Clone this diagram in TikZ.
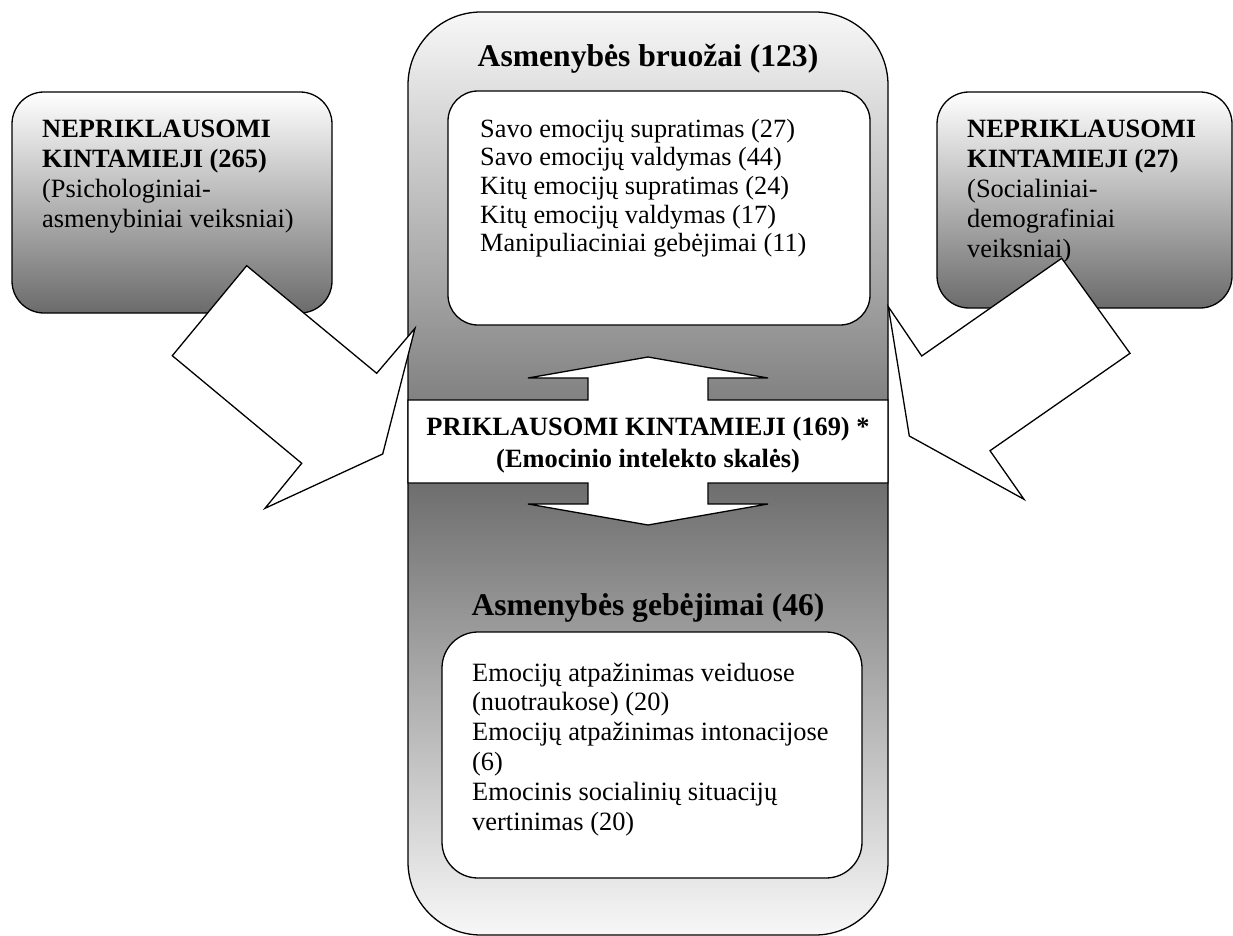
\documentclass[tikz,border=0pt]{standalone}
\usepackage{fontspec}
\setmainfont{Liberation Serif}
\definecolor{paleg}{gray}{0.97}
\definecolor{darkg}{gray}{0.42}
\pgfdeclareverticalshading{mirrorfade}{100bp}{color(0bp)=(paleg); color(25bp)=(paleg); color(50bp)=(darkg); color(75bp)=(paleg); color(100bp)=(paleg)}
\tikzstyle{frame} = [draw, line width=1.3pt, rounded corners=73pt, shade, shading=mirrorfade, inner sep=0pt]
\tikzstyle{sidebox} = [draw, line width=1.3pt, rounded corners=32pt, top color=white, bottom color=darkg, inner sep=0pt]
\tikzstyle{listbox} = [draw, line width=1.3pt, fill=white, inner sep=0pt]
\tikzstyle{blockarrow} = [draw, line width=1.3pt, fill=white, line join=miter]
\tikzstyle{body} = [font=\fontsize{26.4}{30}\selectfont, align=left, inner sep=0pt, anchor=base west]
\tikzstyle{head} = [font=\bfseries\fontsize{31.6}{36}\selectfont, inner sep=0pt, anchor=base]

\begin{document}
\begin{tikzpicture}[x=1pt, y=-1pt]
			\useasboundingbox (0,0) rectangle (1233,936);
			\node [frame, minimum width=480pt, minimum height=923pt] (traitframe) at (648,473.5) {};
			\node [listbox, rounded corners=30pt, minimum width=422pt, minimum height=234pt] (traitbox) at (659,208) {};
			\node [listbox, rounded corners=36pt, minimum width=420pt, minimum height=246pt] (abilitybox) at (652,755) {};
			\path [blockarrow] (408,400) -- (588,400) -- (588,378) -- (528,378) -- (648,357) -- (768,378) -- (708,378) -- (708,400)
				-- (888,400) -- (888,483) -- (708,483) -- (708,504) -- (768,504) -- (648,525) -- (528,504) -- (588,504) -- (588,483) -- (408,483) -- cycle;
			\node [sidebox, minimum width=320pt, minimum height=221pt] (psychbox) at (172,202.5) {};
			\node [sidebox, minimum width=295pt, minimum height=216pt] (socbox) at (1084.5,200) {};
			\node [body] (psychtext) at (42,227) {{\bfseries NEPRIKLAUSOMI}\\{\bfseries KINTAMIEJI (265)}\\(Psichologiniai-\\asmenybiniai veiksniai)};
			\node [body] (soctext) at (967,257) {{\bfseries NEPRIKLAUSOMI}\\{\bfseries KINTAMIEJI (27)}\\(Socialiniai-\\demografiniai\\veiksniai)};
			\path [blockarrow] (246.7,265.7) -- (172.3,355.7) -- (301.7,463.3) -- (265,508.3) -- (382.7,454) -- (415,328.3) -- (376.7,373.3) -- cycle;
			\path [blockarrow] (888.3,306.7) -- (921.7,356) -- (1061.7,258.3) -- (1130,353.3) -- (990,450.7) -- (1024,499.3) -- (909.3,436) -- cycle;
			\node [head] (traits) at (648,67) {Asmenybės bruožai (123)};
			\node [body, font=\fontsize{26.3}{28.7}\selectfont] (traitlist) at (480,251.8) {Savo emocijų supratimas (27)\\Savo emocijų valdymas (44)\\Kitų emocijų supratimas (24)\\Kitų emocijų valdymas (17)\\Manipuliaciniai gebėjimai (11)};
			\node [body, font=\bfseries\fontsize{26.4}{32}\selectfont, align=center, anchor=base] (dependent) at (648,467) {PRIKLAUSOMI KINTAMIEJI (169) *\\(Emocinio intelekto skalės)};
			\node [head] (abilities) at (648,615) {Asmenybės gebėjimai (46)};
			\node [body, font=\fontsize{26.4}{29.8}\selectfont] (abilitylist) at (472,830) {Emocijų atpažinimas veiduose\\(nuotraukose) (20)\\Emocijų atpažinimas intonacijose\\(6)\\Emocinis socialinių situacijų\\vertinimas (20)};
		\end{tikzpicture}
\end{document}
